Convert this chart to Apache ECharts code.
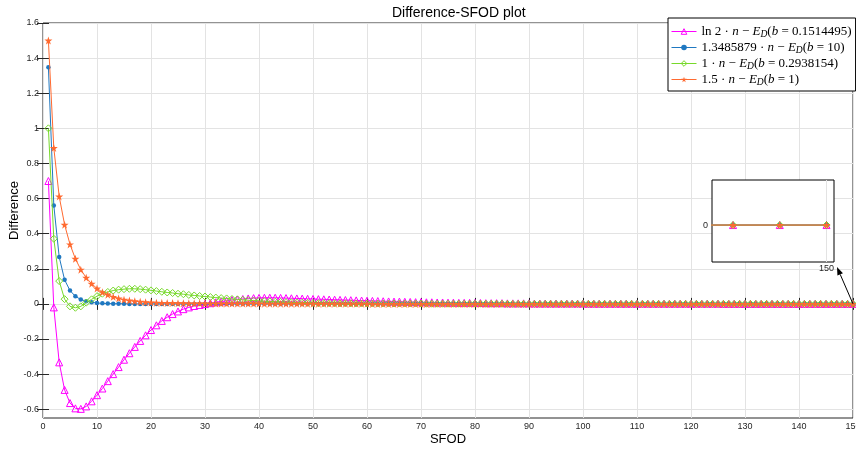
<!DOCTYPE html>
<html><head><meta charset="utf-8">
<script src="https://cdn.jsdelivr.net/npm/echarts@6/dist/echarts.min.js"></script>
<style>html,body{margin:0;padding:0;background:#fff}#c{width:856px;height:452px}</style>
</head><body><div id="c"></div><script>
const titleText = 'Difference-SFOD plot';
const xName = 'SFOD';
const yName = 'Difference';
const seriesNames = ['ln 2·n − E_D(b = 0.1514495)', '1.3485879·n − E_D(b = 10)', '1·n − E_D(b = 0.2938154)', '1.5·n − E_D(b = 1)'];
const legendLabels = [
  '{r|ln 2 · }{i|n}{r| − }{i|E}{s|D}{r|(}{i|b}{r| = 0.1514495)}',
  '{r|1.3485879 · }{i|n}{r| − }{i|E}{s|D}{r|(}{i|b}{r| = 10)}',
  '{r|1 · }{i|n}{r| − }{i|E}{s|D}{r|(}{i|b}{r| = 0.2938154)}',
  '{r|1.5 · }{i|n}{r| − }{i|E}{s|D}{r|(}{i|b}{r| = 1)}'
];
const yTicks = [-0.6, -0.4, -0.2, 0, 0.2, 0.4, 0.6, 0.8, 1, 1.2, 1.4, 1.6];
const xTicks = [0, 10, 20, 30, 40, 50, 60, 70, 80, 90, 100, 110, 120, 130, 140, 150];
const insetXTicks = [150];
const insetYTicks = [0];
// SFOD index n = 1..150
const sfod = Array.from({length: 150}, (_, i) => i + 1);

const diffLn2 = [
  0.700, -0.020, -0.333, -0.490, -0.565, -0.595, -0.598, -0.584, -0.555, -0.520,
  -0.482, -0.440, -0.400, -0.360, -0.318, -0.281, -0.245, -0.211, -0.179, -0.149,
  -0.122, -0.097, -0.076, -0.058, -0.043, -0.030, -0.020, -0.012, -0.006, -0.001,
  0.004, 0.009, 0.014, 0.018, 0.022, 0.025, 0.028, 0.031, 0.033, 0.034,
  0.035, 0.035, 0.035, 0.034, 0.033, 0.032, 0.031, 0.030, 0.029, 0.028,
  0.027, 0.026, 0.025, 0.024, 0.023, 0.022, 0.021, 0.020, 0.019, 0.018,
  0.017, 0.016, 0.015, 0.014, 0.013, 0.013, 0.012, 0.011, 0.010, 0.010,
  0.009, 0.009, 0.008, 0.008, 0.007, 0.007, 0.006, 0.006, 0.006, 0.005,
  0.005, 0.004, 0.004, 0.004, 0.004, 0.003, 0.003, 0.003, 0.003, 0.003,
  0.002, 0.002, 0.002, 0.002, 0.002, 0.002, 0.002, 0.002, 0.002, 0.002,
  0.001, 0.001, 0.001, 0.001, 0.001, 0.001, 0.001, 0.001, 0.001, 0.001,
  0.001, 0.001, 0.001, 0.001, 0.001, 0.001, 0.001, 0.001, 0.001, 0.001,
  0.001, 0.001, 0.001, 0.001, 0.001, 0, 0, 0, 0, 0,
  0, 0, 0, 0, 0, 0, 0, 0, 0, 0,
  0, 0, 0, 0, 0, 0, 0, 0, 0, 0
];
const diffB10 = [
  1.3486, 0.561, 0.267, 0.137, 0.076, 0.043, 0.025, 0.015, 0.009, 0.005,
  0.003, 0.002, 0.001, 0.001, 0.001, 0, 0, 0, 0, 0,
  0, 0, 0, 0, 0, 0, 0, 0, 0, 0,
  0, 0, 0, 0, 0, 0, 0, 0, 0, 0,
  0, 0, 0, 0, 0, 0, 0, 0, 0, 0,
  0, 0, 0, 0, 0, 0, 0, 0, 0, 0,
  0, 0, 0, 0, 0, 0, 0, 0, 0, 0,
  0, 0, 0, 0, 0, 0, 0, 0, 0, 0,
  0, 0, 0, 0, 0, 0, 0, 0, 0, 0,
  0, 0, 0, 0, 0, 0, 0, 0, 0, 0,
  0, 0, 0, 0, 0, 0, 0, 0, 0, 0,
  0, 0, 0, 0, 0, 0, 0, 0, 0, 0,
  0, 0, 0, 0, 0, 0, 0, 0, 0, 0,
  0, 0, 0, 0, 0, 0, 0, 0, 0, 0,
  0, 0, 0, 0, 0, 0, 0, 0, 0, 0
];
const diffOne = [
  1.000, 0.371, 0.130, 0.027, -0.014, -0.022, -0.014, 0.007, 0.026, 0.044,
  0.058, 0.068, 0.076, 0.081, 0.084, 0.086, 0.086, 0.084, 0.081, 0.077,
  0.073, 0.069, 0.065, 0.062, 0.058, 0.055, 0.051, 0.048, 0.045, 0.042,
  0.039, 0.036, 0.033, 0.031, 0.028, 0.026, 0.023, 0.021, 0.019, 0.017,
  0.015, 0.014, 0.012, 0.011, 0.010, 0.009, 0.008, 0.007, 0.006, 0.005,
  0.004, 0.004, 0.004, 0.003, 0.003, 0.003, 0.003, 0.002, 0.002, 0.002,
  0.002, 0.002, 0.002, 0.002, 0.002, 0.002, 0.002, 0.002, 0.002, 0.002,
  0.001, 0.001, 0.001, 0.001, 0.001, 0.001, 0.001, 0.001, 0.001, 0.001,
  0.001, 0.001, 0.001, 0.001, 0.001, 0, 0, 0, 0, 0,
  0, 0, 0, 0, 0, 0, 0, 0, 0, 0,
  0, 0, 0, 0, 0, 0, 0, 0, 0, 0,
  0, 0, 0, 0, 0, 0, 0, 0, 0, 0,
  0, 0, 0, 0, 0, 0, 0, 0, 0, 0,
  0, 0, 0, 0, 0, 0, 0, 0, 0, 0,
  0, 0, 0, 0, 0, 0, 0, 0, 0, 0
];
const diffB1 = [
  1.500, 0.888, 0.612, 0.451, 0.339, 0.257, 0.195, 0.149, 0.115, 0.088,
  0.067, 0.052, 0.040, 0.031, 0.024, 0.019, 0.015, 0.012, 0.010, 0.008,
  0.007, 0.006, 0.005, 0.005, 0.004, 0.004, 0.003, 0.003, 0.003, 0.002,
  0.002, 0.002, 0.002, 0.002, 0.002, 0.002, 0.002, 0.002, 0.002, 0.002,
  0.001, 0.001, 0.001, 0.001, 0.001, 0.001, 0.001, 0.001, 0.001, 0.001,
  0.001, 0.001, 0.001, 0.001, 0.001, 0.001, 0.001, 0.001, 0.001, 0.001,
  0, 0, 0, 0, 0, 0, 0, 0, 0, 0,
  0, 0, 0, 0, 0, 0, 0, 0, 0, 0,
  0, 0, 0, 0, 0, 0, 0, 0, 0, 0,
  0, 0, 0, 0, 0, 0, 0, 0, 0, 0,
  0, 0, 0, 0, 0, 0, 0, 0, 0, 0,
  0, 0, 0, 0, 0, 0, 0, 0, 0, 0,
  0, 0, 0, 0, 0, 0, 0, 0, 0, 0,
  0, 0, 0, 0, 0, 0, 0, 0, 0, 0,
  0, 0, 0, 0, 0, 0, 0, 0, 0, 0
];
const seriesValues = [diffLn2, diffB10, diffOne, diffB1];
const colors = ['#ff00ff', '#1f78c1', '#77d92a', '#ff6a30'];
const STAR = 'path://M50,0L61.2,34.5L97.6,34.5L68.2,55.9L79.4,90.5L50,69.1L20.6,90.5L31.8,55.9L2.4,34.5L38.8,34.5Z';
const symbols = [
  {symbol: 'triangle', size: 7, hollow: true},
  {symbol: 'circle', size: 4.5, hollow: false},
  {symbol: 'diamond', size: 7, hollow: true},
  {symbol: STAR, size: 8, hollow: false}
];

const AX = '#262626';
const GRIDC = '#e3e3e3';
const FONT = 'Liberation Sans, Arial, sans-serif';
const SERIF = 'Liberation Serif, Times New Roman, serif';

const chart = echarts.init(document.getElementById('c'), null, {renderer: 'canvas'});

function styleOf(k) {
  return symbols[k].hollow
    ? {color: 'rgba(255,255,255,0)', borderColor: colors[k], borderWidth: 1}
    : {color: colors[k], borderWidth: 0};
}

function mkSeries(k, xi, yi, z) {
  const s = symbols[k];
  return {
    name: seriesNames[k], type: 'line', xAxisIndex: xi, yAxisIndex: yi,
    data: sfod.map((n, i) => [n, seriesValues[k][i]]),
    symbol: s.symbol, symbolSize: s.size, showSymbol: true, showAllSymbol: true,
    lineStyle: {color: colors[k], width: 1},
    itemStyle: styleOf(k),
    emphasis: {disabled: true}, animation: false, clip: true, z: z
  };
}

const insetXMin = 147.55, insetXMax = 150.16, insetYMin = -0.82, insetYMax = 1;

const option = {
  animation: false,
  backgroundColor: '#fff',
  title: {text: titleText, left: 387, top: 1, textStyle: {fontFamily: FONT, fontSize: 14, fontWeight: 'normal', color: '#000'}},
  legend: {
    data: seriesNames.map((nm, k) => ({name: nm, itemStyle: styleOf(k), lineStyle: {color: colors[k], width: 1}})),
    orient: 'vertical', left: 668, top: 18, itemGap: 1,
    itemWidth: 25, itemHeight: 7, padding: [6, 4, 4, 3],
    backgroundColor: '#fff', borderColor: '#000', borderWidth: 1,
    selectedMode: false,
    formatter: name => legendLabels[seriesNames.indexOf(name)],
    textStyle: {
      lineHeight: 15,
      rich: {
        r: {fontFamily: SERIF, fontSize: 13, lineHeight: 15, color: '#000'},
        i: {fontFamily: SERIF, fontStyle: 'italic', fontSize: 13, lineHeight: 15, color: '#000'},
        s: {fontFamily: SERIF, fontStyle: 'italic', fontSize: 9.5, lineHeight: 9, verticalAlign: 'bottom', color: '#000'}
      }
    }
  },
  grid: [
    {left: 43, right: 3, top: 23, bottom: 34, outerBoundsMode: 'none', containLabel: false, show: true, borderColor: AX, borderWidth: 1, backgroundColor: 'transparent'},
    {left: 712, top: 180, width: 122, height: 82, outerBoundsMode: 'none', containLabel: false, show: true, borderColor: '#000', borderWidth: 1, backgroundColor: '#fff', z: 5}
  ],
  xAxis: [
    {type: 'value', gridIndex: 0, min: 0, max: 150, interval: 10, position: 'bottom',
     name: xName, nameLocation: 'middle', nameGap: 15, nameMoveOverlap: false, nameTextStyle: {fontFamily: FONT, fontSize: 13, color: '#000'},
     axisLine: {show: false}, axisTick: {show: true, inside: true, length: 6, lineStyle: {color: AX}},
     axisLabel: {fontFamily: FONT, fontSize: 9, color: AX, margin: 4},
     splitLine: {show: true, lineStyle: {color: GRIDC, width: 1}}},
    {type: 'value', gridIndex: 0, min: 0, max: 150, interval: 10, position: 'top',
     axisLine: {show: false}, axisTick: {show: true, inside: true, length: 6, lineStyle: {color: AX}},
     axisLabel: {show: false}, splitLine: {show: false}},
    {type: 'value', gridIndex: 1, min: insetXMin, max: insetXMax, position: 'bottom', z: 6,
     axisLine: {show: false},
     axisTick: {show: true, inside: true, length: 4, customValues: insetXTicks, lineStyle: {color: AX}},
     axisLabel: {show: true, customValues: insetXTicks, fontFamily: FONT, fontSize: 9, color: AX, margin: 2,
                 showMinLabel: false, showMaxLabel: false},
     splitLine: {show: true, lineStyle: {color: GRIDC}}}
  ],
  yAxis: [
    {type: 'value', gridIndex: 0, min: -0.65, max: 1.6, position: 'left',
     name: yName, nameLocation: 'middle', nameGap: 22, nameRotate: 90, nameMoveOverlap: false,
     nameTextStyle: {fontFamily: FONT, fontSize: 13, color: '#000', padding: [0, 0, 0, 20]},
     axisLine: {show: false},
     axisTick: {show: true, inside: true, length: 6, customValues: yTicks, lineStyle: {color: AX}},
     axisLabel: {customValues: yTicks, fontFamily: FONT, fontSize: 9, color: AX, margin: 4},
     splitLine: {show: true, lineStyle: {color: GRIDC, width: 1}}},
    {type: 'value', gridIndex: 0, min: -0.65, max: 1.6, position: 'right',
     axisLine: {show: false},
     axisTick: {show: true, inside: true, length: 6, customValues: yTicks, lineStyle: {color: AX}},
     axisLabel: {show: false}, splitLine: {show: false}},
    {type: 'value', gridIndex: 1, min: insetYMin, max: insetYMax, position: 'left', z: 6,
     axisLine: {show: false},
     axisTick: {show: false, customValues: insetYTicks},
     axisLabel: {customValues: insetYTicks, fontFamily: FONT, fontSize: 9, color: AX, margin: 4},
     splitLine: {show: false}}
  ],
  series: [0, 1, 2, 3].map(k => mkSeries(k, 0, 0, 2 + k))
    .concat([0, 1, 2, 3].map(k => mkSeries(k, 2, 2, 10 + k)))
};
chart.setOption(option);

// arrow from data point (150, 0) to the inset
const p = chart.convertToPixel({xAxisIndex: 0, yAxisIndex: 0}, [150, 0]);
const corner = chart.convertToPixel({xAxisIndex: 2, yAxisIndex: 2}, [insetXMax, insetYMin]);
const q = [corner[0] + 3, corner[1] + 5];
const dx = q[0] - p[0], dy = q[1] - p[1], L = Math.hypot(dx, dy);
const ux = dx / L, uy = dy / L;
const hl = 8, hw = 3;
const b = [q[0] - ux * hl, q[1] - uy * hl];
chart.setOption({
  graphic: [
    {type: 'line', z: 100, shape: {x1: p[0], y1: p[1], x2: b[0], y2: b[1]}, style: {stroke: '#000', lineWidth: 1}},
    {type: 'polygon', z: 100, shape: {points: [q, [b[0] - uy * hw, b[1] + ux * hw], [b[0] + uy * hw, b[1] - ux * hw]]}, style: {fill: '#000'}}
  ]
});
</script></body></html>
